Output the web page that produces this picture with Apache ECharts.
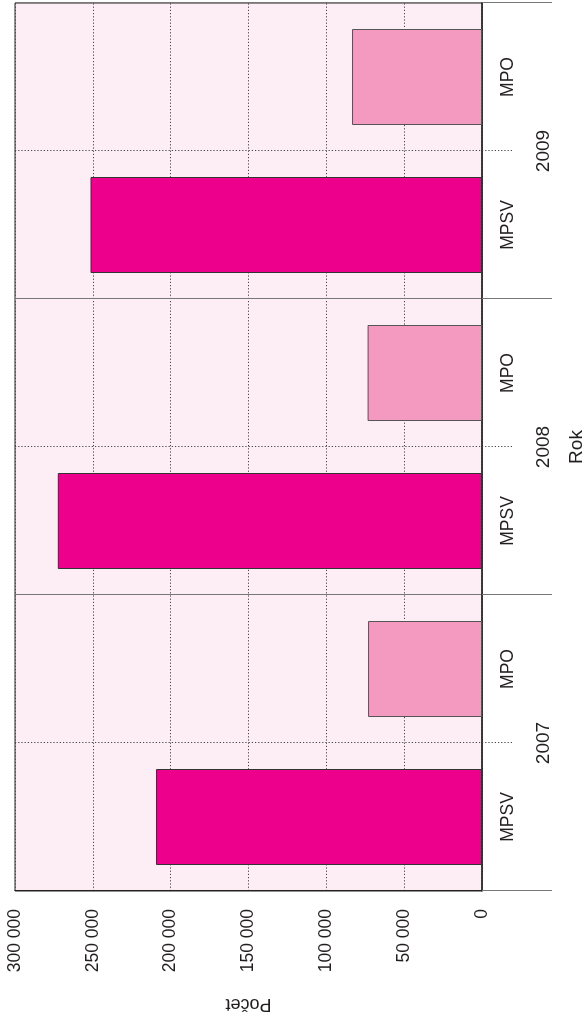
<!DOCTYPE html>
<html>
<head>
<meta charset="utf-8">
<script src="https://cdn.jsdelivr.net/npm/echarts@6/dist/echarts.min.js"></script>
<style>
html, body { margin: 0; padding: 0; width: 584px; height: 1018px; overflow: hidden; background: #fff; }
/* chart is drawn upright at 1018x584, then turned a quarter left */
#chart { position: absolute; left: 0; top: 0; width: 1018px; height: 584px;
  transform-origin: 0 0; transform: translateY(1018px) rotate(-90deg); }
</style>
</head>
<body>
<div id="chart"></div>
<script>
const years = ['2007', '2008', '2009'];
const offices = ['MPSV', 'MPO'];
const mpsv = [209400, 272500, 251500];
const mpo = [73200, 73500, 83500];
const valueMin = 0, valueMax = 300000, valueStep = 50000;

const FONT = 'Liberation Sans';
const TXT = '#231f20';

// one slot per (year, office)
const cats = years.flatMap(() => offices);
const mpsvData = years.flatMap((y, i) => [mpsv[i], '-']);
const mpoData = years.flatMap((y, i) => ['-', mpo[i]]);

function fmt(v) {
  return String(v).replace(/\B(?=(\d{3})+(?!\d))/g, ' ');
}
const midTick = i => i % 2 === 1;
const dots = { color: '#444', width: 1, type: [1.2, 2] };

const chart = echarts.init(document.getElementById('chart'));
chart.setOption({
  animation: false,
  grid: {
    left: 127, right: 3, top: 15, bottom: 102,
    show: true, backgroundColor: '#fdeef5', borderColor: '#222', borderWidth: 1,
    outerBoundsMode: 'none'
  },
  xAxis: [{
    type: 'category', data: cats, position: 'bottom',
    axisLine: { lineStyle: { color: '#222', width: 1.5 } },
    axisTick: { show: true, interval: midTick, length: 31, lineStyle: dots },
    splitLine: { show: true, interval: midTick, lineStyle: dots },
    axisLabel: { interval: 0, margin: 17, fontSize: 17.5, color: TXT, fontFamily: FONT }
  }, {
    type: 'category', data: years, position: 'bottom',
    axisLine: { show: false },
    axisTick: { show: true, length: 70, lineStyle: { color: '#777', width: 1 } },
    splitLine: { show: true, lineStyle: { color: '#777', width: 1 } },
    axisLabel: { interval: 0, margin: 52, fontSize: 19, color: TXT, fontFamily: FONT },
    name: 'Rok', nameLocation: 'middle', nameGap: 85, nameMoveOverlap: false,
    nameTextStyle: { fontSize: 19, color: TXT, fontFamily: FONT }
  }],
  yAxis: {
    type: 'value', min: valueMin, max: valueMax, interval: valueStep,
    axisLine: { show: true, lineStyle: { color: '#222', width: 1 } },
    axisTick: { show: false },
    splitLine: { show: true, lineStyle: dots },
    axisLabel: { margin: 18, fontSize: 17.5, color: TXT, fontFamily: FONT, formatter: fmt },
    name: 'Počet', nameLocation: 'middle', nameRotate: 90, nameGap: 104, nameMoveOverlap: false,
    nameTextStyle: { fontSize: 18, color: TXT, fontFamily: FONT }
  },
  series: [{
    name: 'MPSV', type: 'bar', stack: 'one', barWidth: 96, data: mpsvData,
    itemStyle: { color: '#ec008c', borderColor: '#333', borderWidth: 1 }
  }, {
    name: 'MPO', type: 'bar', stack: 'one', barWidth: 96, data: mpoData,
    itemStyle: { color: '#f49ac1', borderColor: '#555', borderWidth: 1 }
  }]
});
</script>
</body>
</html>
